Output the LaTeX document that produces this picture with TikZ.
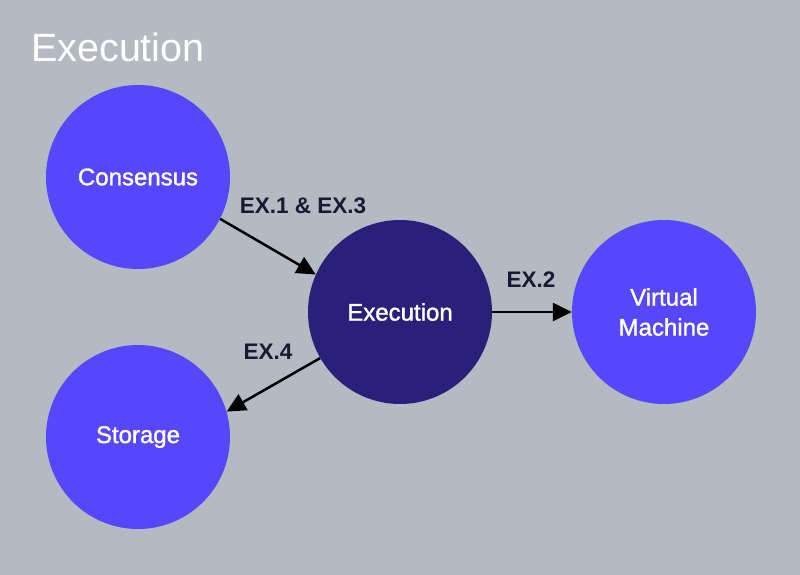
\documentclass[tikz,border=0pt]{standalone}
\usepackage{fontspec}
\setmainfont{Liberation Sans}
\newfontfamily\medfont[FakeBold=1.4]{Liberation Sans}
\usetikzlibrary{arrows.meta}
\definecolor{bgc}{HTML}{B3BAC1}
\definecolor{violetc}{HTML}{5747FA}
\definecolor{darkc}{HTML}{2B2079}
\definecolor{labc}{HTML}{1B1833}
\tikzset{
  circ/.style={circle, fill=violetc, minimum size=184pt, inner sep=0pt, text=white, align=center,
    font=\medfont\fontsize{24}{30}\selectfont},
  darkcirc/.style={circ, fill=darkc},
  conn/.style={line width=2.5pt, -{Triangle[length=19pt,width=18pt]}, black},
  elab/.style={text=labc, font=\bfseries\fontsize{22.5}{26}\selectfont, inner sep=0pt},
  ttl/.style={text=white, font=\fontsize{39.5}{44}\selectfont, inner sep=0pt, anchor=west}
}
\begin{document}
\begin{tikzpicture}[x=1pt,y=-1pt]
\fill[bgc] (0,0) rectangle (800,575);
\useasboundingbox (0,0) rectangle (800,575);
\node[ttl] (title) at (31,47) {Execution};
\node[circ] (cons) at (138,177) {Consensus};
\node[darkcirc] (exec) at (400,312) {Execution};
\node[circ] (vm) at (664,312) {Virtual\\Machine};
\node[circ] (stor) at (138,437) {Storage\strut};
\draw[conn] (cons.-27) -- (exec.156);
\draw[conn] (exec.east) -- (vm.west);
\draw[conn] (exec.210) -- (stor.16);
\node[elab] (l13) at (303,206) {EX.1 \& EX.3};
\node[elab] (l2) at (531,280) {EX.2};
\node[elab] (l4) at (268,352) {EX.4};
\end{tikzpicture}
\end{document}
